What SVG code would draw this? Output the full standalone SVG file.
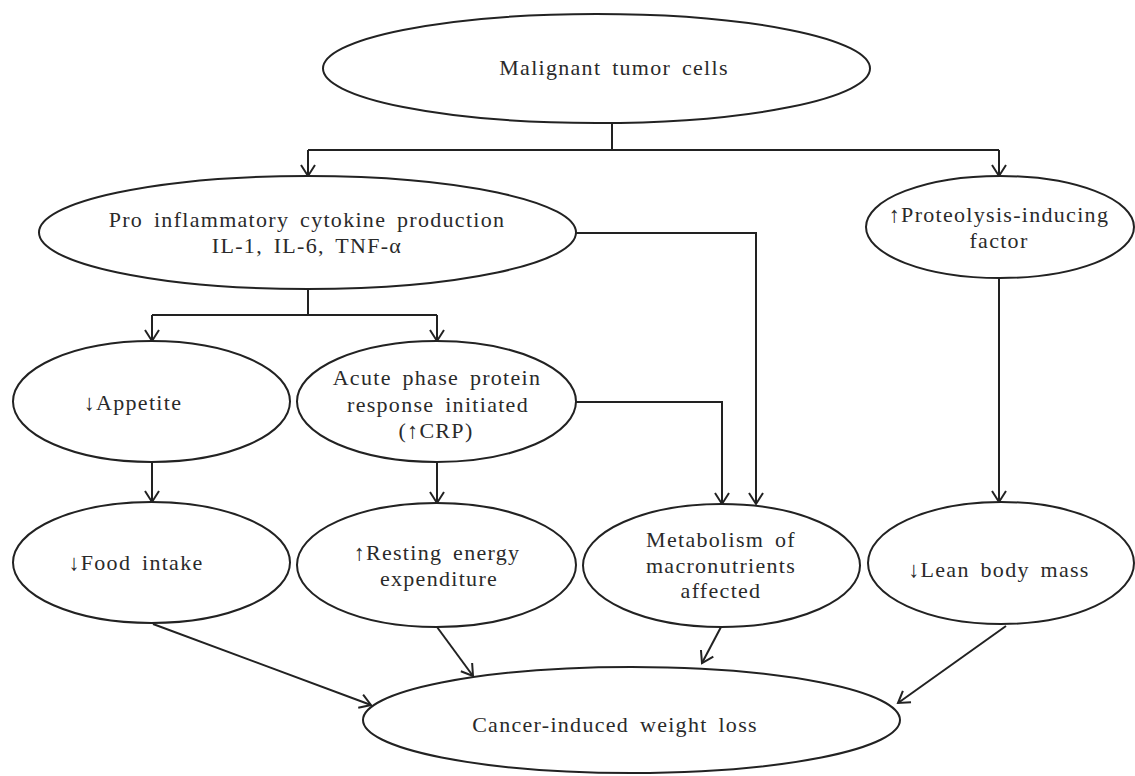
<svg xmlns="http://www.w3.org/2000/svg" width="1135" height="776" viewBox="0 0 1135 776">
<style>
.n{fill:#fff;stroke:#222;stroke-width:2}
.t{font-family:'Liberation Serif','DejaVu Serif','Times New Roman',serif;font-size:22px;fill:#2a2a2a;text-anchor:middle;letter-spacing:1.3px;word-spacing:4px}
.c{fill:none;stroke:#222;stroke-width:2}
</style>
<defs>
<marker id="ah" markerUnits="userSpaceOnUse" markerWidth="20" markerHeight="20" viewBox="0 0 20 20" refX="14" refY="10" orient="auto">
<path d="M3,3 L14,10 L3,17" fill="none" stroke="#222" stroke-width="2"/>
</marker>
</defs>
<rect width="1135" height="776" fill="#fff"/>
<g id="connectors">
<path class="c" d="M612,123 V150"/>
<path class="c" d="M308,150 H999"/>
<path class="c" d="M308,150 V176" marker-end="url(#ah)"/>
<path class="c" d="M999,150 V176" marker-end="url(#ah)"/>
<path class="c" d="M308,289 V315 M152,315 H437"/>
<path class="c" d="M152,315 V341" marker-end="url(#ah)"/>
<path class="c" d="M437,315 V341" marker-end="url(#ah)"/>
<path class="c" d="M152,462 V502" marker-end="url(#ah)"/>
<path class="c" d="M437,462 V503" marker-end="url(#ah)"/>
<path class="c" d="M576,233 H756 V504" marker-end="url(#ah)"/>
<path class="c" d="M576,402 H722 V504" marker-end="url(#ah)"/>
<path class="c" d="M999,278 V502" marker-end="url(#ah)"/>
<path class="c" d="M153,624 L371,705" marker-end="url(#ah)"/>
<path class="c" d="M437,627 L473,676" marker-end="url(#ah)"/>
<path class="c" d="M721,627 L702,663" marker-end="url(#ah)"/>
<path class="c" d="M1006,626 L898,703" marker-end="url(#ah)"/>
</g>
<g font-family="'Liberation Serif','DejaVu Serif',serif">
<g id="malignant">
<ellipse class="n" cx="596.5" cy="68.5" rx="273.5" ry="54.5"/>
<text class="t" x="614" y="75">Malignant tumor cells</text>
</g>
<g id="proinflammatory">
<ellipse class="n" cx="307.5" cy="232.5" rx="268.5" ry="56.5"/>
<text class="t" x="307" y="227">Pro inflammatory cytokine production</text>
<text class="t" x="307" y="253">IL-1, IL-6, TNF-α</text>
</g>
<g id="proteolysis">
<ellipse class="n" cx="1000" cy="227" rx="134" ry="51"/>
<text class="t" x="999" y="222">↑Proteolysis-inducing</text>
<text class="t" x="999" y="248">factor</text>
</g>
<g id="appetite">
<ellipse class="n" cx="151.5" cy="401.5" rx="138.5" ry="60.5"/>
<text class="t" x="133" y="410">↓Appetite</text>
</g>
<g id="acute">
<ellipse class="n" cx="436.5" cy="401.5" rx="139.5" ry="60.5"/>
<text class="t" x="437" y="385">Acute phase protein</text>
<text class="t" x="438" y="412">response initiated</text>
<text class="t" x="436" y="438">(↑CRP)</text>
</g>
<g id="food">
<ellipse class="n" cx="151.5" cy="562.5" rx="138.5" ry="60.5"/>
<text class="t" x="136" y="570">↓Food intake</text>
</g>
<g id="resting">
<ellipse class="n" cx="436.5" cy="565" rx="139.5" ry="62"/>
<text class="t" x="437" y="560">↑Resting energy</text>
<text class="t" x="439" y="586">expenditure</text>
</g>
<g id="metabolism">
<ellipse class="n" cx="721.5" cy="565.5" rx="138.5" ry="61.5"/>
<text class="t" x="721" y="547">Metabolism of</text>
<text class="t" x="721" y="573">macronutrients</text>
<text class="t" x="721" y="598">affected</text>
</g>
<g id="lean">
<ellipse class="n" cx="1001" cy="563" rx="133" ry="61"/>
<text class="t" x="999" y="577">↓Lean body mass</text>
</g>
<g id="weightloss">
<ellipse class="n" cx="631.5" cy="720" rx="268.5" ry="53"/>
<text class="t" x="615" y="732">Cancer-induced weight loss</text>
</g>
</g>
</svg>
